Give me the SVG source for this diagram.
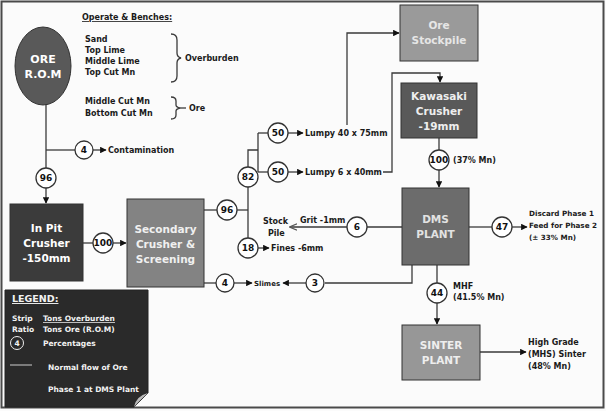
<svg xmlns="http://www.w3.org/2000/svg" width="606" height="411" viewBox="0 0 606 411">
<style>
text{font-family:"DejaVu Sans",Verdana,sans-serif;font-weight:bold;}
.s{font-size:8px;fill:#1a1a1a;}
.b{font-size:10.5px;text-anchor:middle;}
.n{font-size:9px;text-anchor:middle;fill:#111;}
.c{fill:#fff;stroke:#333;stroke-width:1.3;}
.l{stroke:#3a3a3a;stroke-width:1.3;fill:none;}
.box{stroke:#333;stroke-width:1;}
.lg{font-size:7.5px;fill:#f2f2f2;}
</style>
<defs>
<marker id="a" viewBox="0 0 10 10" refX="9" refY="5" markerWidth="5" markerHeight="5" orient="auto"><path d="M0,0L10,5L0,10z" fill="#111"/></marker>
<marker id="h" viewBox="0 0 10 10" refX="9" refY="5" markerWidth="6" markerHeight="6" orient="auto"><path d="M0,1L10,5L0,9" fill="none" stroke="#555" stroke-width="1.5"/></marker>
</defs>
<rect x="0" y="0" width="606" height="411" fill="#fbfbfb"/>
<rect x="1.5" y="1.5" width="602" height="406" fill="none" stroke="#4a4a4a" stroke-width="2"/>

<g id="connectors">
<line class="l" x1="46" y1="104" x2="46" y2="168"/>
<line class="l" x1="46" y1="188" x2="46" y2="203" marker-end="url(#a)"/>
<line class="l" x1="46" y1="150" x2="75" y2="150"/>
<line class="l" x1="93" y1="150" x2="106" y2="150" marker-end="url(#a)"/>
<line class="l" x1="83" y1="243" x2="93" y2="243"/>
<line class="l" x1="113" y1="243" x2="126" y2="243" marker-end="url(#a)"/>
<line class="l" x1="204" y1="210" x2="217" y2="210"/>
<line class="l" x1="237" y1="210" x2="248" y2="210"/>
<line class="l" x1="248" y1="187" x2="248" y2="238"/>
<polyline class="l" points="248,167 248,150 258,150"/>
<line class="l" x1="258" y1="133" x2="258" y2="172"/>
<line class="l" x1="258" y1="133" x2="269" y2="133"/>
<line class="l" x1="258" y1="172" x2="269" y2="172"/>
<line class="l" x1="288" y1="133" x2="303" y2="133" marker-end="url(#a)"/>
<line class="l" x1="288" y1="172" x2="303" y2="172" marker-end="url(#a)"/>
<polyline class="l" points="347,125 347,33 399,33" marker-end="url(#a)"/>
<polyline class="l" points="383,172 392,172 392,73 440,73 440,82" marker-end="url(#a)"/>
<line class="l" x1="439" y1="138" x2="439" y2="150"/>
<line class="l" x1="439" y1="170" x2="439" y2="187" marker-end="url(#a)"/>
<line class="l" x1="469" y1="227" x2="492" y2="227"/>
<line class="l" x1="512" y1="227" x2="527" y2="227" marker-end="url(#a)"/>
<line class="l" x1="402" y1="227" x2="367" y2="227"/>
<line class="l" x1="347" y1="227" x2="290" y2="227" marker-end="url(#h)"/>
<line class="l" x1="258" y1="248" x2="269" y2="248" marker-end="url(#a)"/>
<polyline class="l" points="412,265 412,283 325,283"/>
<line class="l" x1="306" y1="283" x2="283" y2="283" marker-end="url(#a)"/>
<line class="l" x1="204" y1="283" x2="216" y2="283"/>
<line class="l" x1="234" y1="283" x2="252" y2="283" marker-end="url(#a)"/>
<line class="l" x1="437" y1="265" x2="437" y2="283"/>
<line class="l" x1="437" y1="303" x2="437" y2="324" marker-end="url(#a)"/>
<line class="l" x1="480" y1="352" x2="526" y2="352" marker-end="url(#a)"/>
</g>

<g id="ore-rom">
<ellipse cx="43" cy="66" rx="28" ry="39" fill="#595959" stroke="#333" stroke-width="1"/>
<text class="b" x="43" y="63" fill="#fff" style="font-size:11px">ORE</text>
<text class="b" x="43" y="78" fill="#fff" style="font-size:11px">R.O.M</text>
</g>

<g id="benches">
<text class="s" x="82" y="20" text-decoration="underline">Operate &amp; Benches:</text>
<text class="s" x="85" y="42">Sand</text>
<text class="s" x="85" y="53">Top Lime</text>
<text class="s" x="85" y="64">Middle Lime</text>
<text class="s" x="85" y="75">Top Cut Mn</text>
<path class="l" d="M171,34 Q177,34 177,40 L177,53 Q177,57 181,58 Q177,59 177,63 L177,76 Q177,82 171,82" stroke-width="1"/>
<text class="s" x="185" y="61">Overburden</text>
<text class="s" x="85" y="104">Middle Cut Mn</text>
<text class="s" x="85" y="116">Bottom Cut Mn</text>
<path class="l" d="M171,97 Q176,97 176,101 L176,105 Q176,107 180,108 Q176,109 176,111 L176,115 Q176,119 171,119" stroke-width="1"/>
<line class="l" x1="180" y1="108" x2="186" y2="108" stroke-width="1"/>
<text class="s" x="189" y="111">Ore</text>
</g>

<g id="c-contam">
<circle class="c" cx="84" cy="150" r="9"/>
<text class="n" x="84" y="153">4</text>
<text class="s" x="108" y="153">Contamination</text>
</g>
<g id="c-96a"><circle class="c" cx="46" cy="178" r="10"/><text class="n" x="46" y="181">96</text></g>

<g id="inpit">
<rect class="box" x="10" y="204" width="73" height="77" fill="#3b3b3b"/>
<text class="b" x="46.5" y="232" fill="#fff">In Pit</text>
<text class="b" x="46.5" y="247" fill="#fff">Crusher</text>
<text class="b" x="46.5" y="262" fill="#fff">-150mm</text>
</g>
<g id="c-100a"><circle class="c" cx="103" cy="243" r="10"/><text class="n" x="103" y="246">100</text></g>

<g id="secondary">
<rect class="box" x="127" y="199" width="77" height="88" fill="#838383"/>
<text class="b" x="165.5" y="233" fill="#f0f0f0">Secondary</text>
<text class="b" x="165.5" y="248" fill="#f0f0f0">Crusher &amp;</text>
<text class="b" x="165.5" y="263" fill="#f0f0f0">Screening</text>
</g>

<g id="c-96b"><circle class="c" cx="227" cy="210" r="10"/><text class="n" x="227" y="213">96</text></g>
<g id="c-82"><circle class="c" cx="248" cy="177" r="10"/><text class="n" x="248" y="180">82</text></g>
<g id="c-18"><circle class="c" cx="248" cy="248" r="10"/><text class="n" x="248" y="251">18</text>
<text class="s" x="271" y="251">Fines -6mm</text></g>
<g id="c-50a"><circle class="c" cx="278" cy="133" r="10"/><text class="n" x="278" y="136">50</text>
<text class="s" x="305" y="136">Lumpy 40 x 75mm</text></g>
<g id="c-50b"><circle class="c" cx="278" cy="172" r="10"/><text class="n" x="278" y="175">50</text>
<text class="s" x="305" y="175">Lumpy 6 x 40mm</text></g>

<g id="stockpile">
<rect class="box" x="400" y="5" width="78" height="56" fill="#9a9a9a"/>
<text class="b" x="439" y="29" fill="#e6e6e6">Ore</text>
<text class="b" x="439" y="44" fill="#e6e6e6">Stockpile</text>
</g>

<g id="kawasaki">
<rect class="box" x="401" y="83" width="76" height="55" fill="#595959"/>
<text class="b" x="439" y="100" fill="#eee">Kawasaki</text>
<text class="b" x="439" y="115" fill="#eee">Crusher</text>
<text class="b" x="439" y="130" fill="#eee">-19mm</text>
</g>
<g id="c-100b"><circle class="c" cx="439" cy="160" r="10"/><text class="n" x="439" y="163">100</text>
<text class="s" x="453" y="163">(37% Mn)</text></g>

<g id="dms">
<rect class="box" x="402" y="188" width="67" height="77" fill="#6c6c6c"/>
<text class="b" x="435.5" y="223" fill="#e2e2e2">DMS</text>
<text class="b" x="435.5" y="238" fill="#e2e2e2">PLANT</text>
</g>

<g id="c-47"><circle class="c" cx="502" cy="227" r="10"/><text class="n" x="502" y="230">47</text>
<text class="s" x="529" y="216" style="font-size:7.2px">Discard Phase 1</text>
<text class="s" x="529" y="228" style="font-size:7.2px">Feed for Phase 2</text>
<text class="s" x="529" y="240" style="font-size:7.2px">(± 33% Mn)</text></g>

<g id="c-6"><circle class="c" cx="357" cy="227" r="10"/><text class="n" x="357" y="230">6</text>
<text class="s" x="300" y="223">Grit -1mm</text>
<text class="s" x="263" y="224">Stock</text>
<text class="s" x="268" y="236">Pile</text></g>

<g id="c-3"><circle class="c" cx="315" cy="283" r="9"/><text class="n" x="315" y="286">3</text></g>
<g id="c-4"><circle class="c" cx="225" cy="283" r="9"/><text class="n" x="225" y="286">4</text>
<text class="s" x="254" y="285.5" style="font-size:7px">Slimes</text></g>

<g id="c-44"><circle class="c" cx="437" cy="293" r="10"/><text class="n" x="437" y="296">44</text>
<text class="s" x="453" y="289">MHF</text>
<text class="s" x="453" y="300">(41.5% Mn)</text></g>

<g id="sinter">
<rect class="box" x="402" y="325" width="78" height="55" fill="#979797"/>
<text class="b" x="441" y="349" fill="#eee">SINTER</text>
<text class="b" x="441" y="364" fill="#eee">PLANT</text>
<text class="s" x="528" y="345">High Grade</text>
<text class="s" x="528" y="357">(MHS) Sinter</text>
<text class="s" x="528" y="369">(48% Mn)</text>
</g>

<g id="legend">
<path d="M5,290 H148 V393 L134,407 H5 Z" fill="#2a2a2a" stroke="#222"/>
<path d="M134,407 Q136,396 148,393 Q140,400 134,407 Z" fill="#bbb"/>
<text class="lg" x="12" y="302" style="font-size:9.5px" text-decoration="underline">LEGEND:</text>
<text class="lg" x="12" y="321">Strip</text>
<text class="lg" x="43" y="321" text-decoration="underline">Tons Overburden</text>
<text class="lg" x="12" y="332">Ratio</text>
<text class="lg" x="43" y="332">Tons Ore (R.O.M)</text>
<circle cx="17" cy="343" r="6.5" fill="none" stroke="#eee" stroke-width="1"/>
<text class="lg" x="17" y="346" text-anchor="middle">4</text>
<text class="lg" x="43" y="346">Percentages</text>
<line x1="10" y1="365" x2="32" y2="365" stroke="#ccc" stroke-width="1"/>
<text class="lg" x="48" y="370">Normal flow of Ore</text>
<text class="lg" x="48" y="392">Phase 1 at DMS Plant</text>
</g>
</svg>
